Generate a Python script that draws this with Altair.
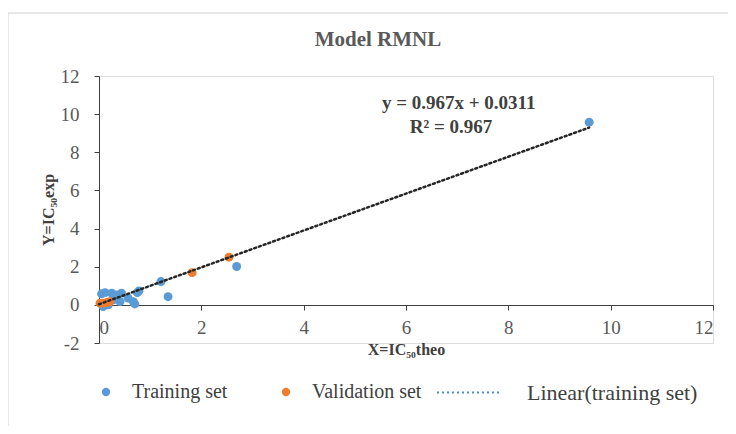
import altair as alt
import pandas as pd

# ---- data ----
train_x = [9.58, 2.69, 1.35, 1.21, 0.78, 0.70, 0.05, 0.12, 0.25, 0.35, 0.44, 0.57, 0.67, 0.75, 0.41, 0.28, 0.08, 0.18]
train_y = [9.58, 2.01, 0.43, 1.22, 0.73, 0.05, 0.58, 0.64, 0.61, 0.52, 0.61, 0.35, 0.17, 0.64, 0.17, 0.26, -0.09, 0.00]
val_x = [2.54, 1.82, 0.02, 0.08, 0.15, 0.21]
val_y = [2.50, 1.69, 0.09, 0.09, 0.12, 0.17]

slope = 0.967
intercept = 0.0311
line_x = [0.0, 9.58]

point_series = ["Training set", "Validation set"]
point_colors = ["#5b9bd5", "#ed7d31"]
line_series = ["Linear(training set)"]

eq_lines = ["y = 0.967x + 0.0311", "R² = 0.967"]
eq_x = [7.03, 6.88]
eq_y = [10.58, 9.32]

x_ticks = [0, 2, 4, 6, 8, 10, 12]
y_ticks = [-2, 0, 2, 4, 6, 8, 10, 12]

# ---- tables ----
pts = pd.DataFrame({
    "x": train_x + val_x,
    "y": train_y + val_y,
    "series": ["Training set"] * len(train_x) + ["Validation set"] * len(val_x),
})
ln = pd.DataFrame({
    "x": line_x,
    "y": [slope * v + intercept for v in line_x],
    "series": line_series * len(line_x),
})
eq = pd.DataFrame({"x": eq_x, "y": eq_y, "t": eq_lines})

FONT = "Liberation Serif"
W, H = 614, 267

xscale = alt.Scale(domain=[0, 12], nice=False, zero=False)
yscale = alt.Scale(domain=[-2, 12], nice=False, zero=False)

xenc = alt.X("x:Q", scale=xscale, axis=alt.Axis(
    values=x_ticks, tickCount=len(x_ticks), title="X=IC₅₀theo", offset=-38, grid=False,
    labelOverlap=False,
    domainColor="#404040", tickColor="#404040", tickSize=5,
    labelFont=FONT, labelFontSize=19, labelColor="#595959", labelPadding=8,
    titleFont=FONT, titleFontSize=16, titleFontWeight="bold", titleColor="#404040",
    titlePadding=4))
yenc = alt.Y("y:Q", scale=yscale, axis=alt.Axis(
    values=y_ticks, tickCount=len(y_ticks), title="Y=IC₅₀exp", grid=False,
    labelOverlap=False, labelExpr="replace(datum.label, '−', '-')",
    domainColor="#404040", tickColor="#404040", tickSize=5,
    labelFont=FONT, labelFontSize=19, labelColor="#595959", labelPadding=15,
    titleFont=FONT, titleFontSize=16, titleFontWeight="bold", titleColor="#404040",
    titlePadding=4))

color_legend = alt.Legend(
    title=None, orient="none", legendX=-3, legendY=306, direction="horizontal",
    columns=2, columnPadding=48, symbolType="circle", symbolSize=70,
    symbolOpacity=1, labelFont=FONT, labelFontSize=20, labelColor="#404040",
    labelOffset=16, labelLimit=300)

dash_legend = alt.Legend(
    title=None, orient="none", legendX=337, legendY=283, direction="horizontal",
    symbolType="stroke", symbolSize=4225, symbolStrokeWidth=2,
    symbolStrokeColor="#4a90c8", labelFont=FONT, labelFontSize=22,
    labelColor="#404040", labelOffset=24, labelLimit=300)

border = alt.Chart(pd.DataFrame({"k": [0]})).mark_rect(
    fill="transparent", stroke="#d0d0d0", strokeWidth=1).encode(
    x=alt.value(-91), x2=alt.value(W + 200), y=alt.value(-63), y2=alt.value(H + 200))

points = alt.Chart(pts).mark_point(filled=True, size=80, opacity=1).encode(
    x=xenc, y=yenc,
    color=alt.Color("series:N", scale=alt.Scale(domain=point_series, range=point_colors),
                    legend=color_legend))

trend = alt.Chart(ln).mark_line(strokeWidth=2.5, strokeCap="round", color="#262626").encode(
    x=alt.X("x:Q", scale=xscale), y=alt.Y("y:Q", scale=yscale),
    strokeDash=alt.StrokeDash("series:N",
                              scale=alt.Scale(domain=line_series, range=[[2, 3]]),
                              legend=dash_legend))

eqtext = alt.Chart(eq).mark_text(font=FONT, fontSize=19, fontWeight="bold", color="#404040",
                                 align="center", baseline="middle").encode(
    x=alt.X("x:Q", scale=xscale), y=alt.Y("y:Q", scale=yscale), text="t:N")

chart = alt.layer(border, points, trend, eqtext).properties(
    width=W, height=H,
    autosize=alt.AutoSizeParams(type="none"),
    padding={"left": 91, "top": 68, "right": 15, "bottom": 83},
    title=alt.TitleParams("Model RMNL", font=FONT, fontSize=21, fontWeight="bold",
                          color="#595959", anchor="middle", offset=-37, dx=-28),
).configure_view(stroke=None).configure(background="white")

chart.save("out.html", embed_options={"renderer": "svg", "actions": False})
